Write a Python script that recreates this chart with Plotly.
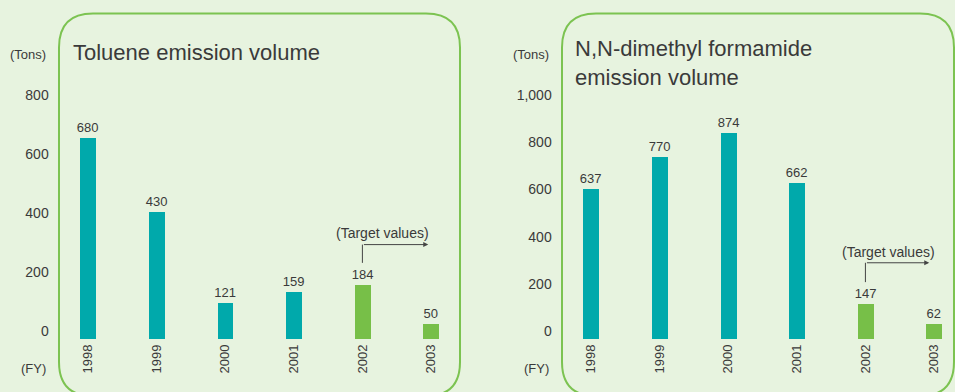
import plotly.graph_objects as go

years = ["1998", "1999", "2000", "2001", "2002", "2003"]
toluene = [680, 430, 121, 159, 184, 50]
dmf = [637, 770, 874, 662, 147, 62]
is_target = [False, False, False, False, True, True]
left_ticks = [0, 200, 400, 600, 800]
left_ticktext = ["0", "200", "400", "600", "800"]
right_ticks = [0, 200, 400, 600, 800, 1000]
right_ticktext = ["0", "200", "400", "600", "800", "1,000"]

W, H = 955, 392
BG = "#e7f3df"
TEAL = "#00a9ab"
GREEN = "#77bf48"
BORDER = "#7cc351"
TXT = "#3a3a3a"
FONT = "Liberation Sans"

colors = [GREEN if t else TEAL for t in is_target]
xs = list(range(len(years)))

fig = go.Figure()
for vals, xa, ya in [(toluene, "x", "y"), (dmf, "x2", "y2")]:
    fig.add_trace(go.Bar(
        x=xs, y=vals, xaxis=xa, yaxis=ya, width=0.233,
        marker=dict(color=colors, line=dict(width=0)),
        text=[str(v) for v in vals], textposition="outside", constraintext="none",
        textfont=dict(size=13, color=TXT, family=FONT),
        cliponaxis=False, showlegend=False, hoverinfo="skip",
    ))

def px(x):
    return x / W

def py(y):
    return 1 - y / H

ydom = [py(339), py(44)]
axis_font = dict(size=14, color=TXT, family=FONT)
common_x = dict(tickmode="array", tickvals=xs, ticktext=years, tickangle=-90,
                showgrid=False, zeroline=False, showline=False, ticks="", automargin=False,
                ticklabelstandoff=2,
                tickfont=dict(size=13, color=TXT, family=FONT), fixedrange=True)
common_y = dict(showgrid=False, zeroline=False, showline=False, ticks="", automargin=False,
                tickfont=axis_font, ticklabelshift=-8, ticklabelstandoff=4,
                fixedrange=True)

fig.update_layout(
    width=W, height=H, margin=dict(l=0, r=0, t=0, b=0, autoexpand=False),
    paper_bgcolor=BG, plot_bgcolor="rgba(0,0,0,0)",
    bargap=0,
    xaxis=dict(domain=[px(53.7), px(465.3)], range=[-0.5, 5.5], anchor="y", **common_x),
    yaxis=dict(domain=ydom, range=[0, 1000], anchor="x", tickmode="array",
               tickvals=left_ticks, ticktext=left_ticktext, **common_y),
    xaxis2=dict(domain=[px(556.7), px(954.6)], range=[-0.5, 5.3], anchor="y2", **common_x),
    yaxis2=dict(domain=ydom, range=[0, 1250], anchor="x2", tickmode="array",
                tickvals=right_ticks, ticktext=right_ticktext, **common_y),
)

def rounded_rect(x0, y0, x1, y1, r):
    def P(x, y):
        return f"{px(x):.5f},{py(y):.5f}"
    return (f"M {P(x0 + r, y0)} L {P(x1 - r, y0)} Q {P(x1, y0)} {P(x1, y0 + r)} "
            f"L {P(x1, y1 - r)} Q {P(x1, y1)} {P(x1 - r, y1)} "
            f"L {P(x0 + r, y1)} Q {P(x0, y1)} {P(x0, y1 - r)} "
            f"L {P(x0, y0 + r)} Q {P(x0, y0)} {P(x0 + r, y0)} Z")

shapes = []
for (x0, x1) in [(59, 460), (562, 954)]:
    shapes.append(dict(type="path", xref="paper", yref="paper",
                       path=rounded_rect(x0, 13.5, x1, 396, 34),
                       line=dict(color=BORDER, width=2), layer="below"))

shapes.append(dict(type="line", xref="x", yref="y", x0=4, x1=4, y0=258, y1=320,
                   line=dict(color="#444", width=1)))
shapes.append(dict(type="line", xref="x2", yref="y2", x0=4, x1=4, y0=241, y1=323,
                   line=dict(color="#444", width=1)))
fig.update_layout(shapes=shapes)

ann = []
ann.append(dict(x=4.96, y=320, ax=4, ay=320, xref="x", yref="y", axref="x", ayref="y",
                text="", showarrow=True, arrowhead=2, arrowsize=1, arrowwidth=1,
                arrowcolor="#444"))
ann.append(dict(x=4.93, y=323, ax=4, ay=323, xref="x2", yref="y2", axref="x2", ayref="y2",
                text="", showarrow=True, arrowhead=2, arrowsize=1, arrowwidth=1,
                arrowcolor="#444"))
ann.append(dict(x=4.29, y=359, xref="x", yref="y", text="(Target values)", showarrow=False,
                font=dict(size=14, color=TXT, family=FONT)))
ann.append(dict(x=4.34, y=369, xref="x2", yref="y2", text="(Target values)", showarrow=False,
                font=dict(size=14, color=TXT, family=FONT)))

ann.append(dict(x=px(71), y=py(52), xref="paper", yref="paper", xanchor="left", yanchor="middle",
                text="Toluene emission volume", showarrow=False,
                font=dict(size=22, color=TXT, family=FONT)))
ann.append(dict(x=px(573), y=py(63), xref="paper", yref="paper", xanchor="left", yanchor="middle",
                text="N,N-dimethyl formamide<br>emission volume", showarrow=False, align="left",
                font=dict(size=22, color=TXT, family=FONT)))

for xr in [48, 551]:
    ann.append(dict(x=px(xr), y=py(55), xref="paper", yref="paper", xanchor="right",
                    yanchor="middle", text="(Tons)", showarrow=False,
                    font=dict(size=13, color=TXT, family=FONT)))
    ann.append(dict(x=px(xr), y=py(368), xref="paper", yref="paper", xanchor="right",
                    yanchor="middle", text="(FY)", showarrow=False,
                    font=dict(size=13, color=TXT, family=FONT)))

fig.update_layout(annotations=ann)
fig.write_html("out.html")
